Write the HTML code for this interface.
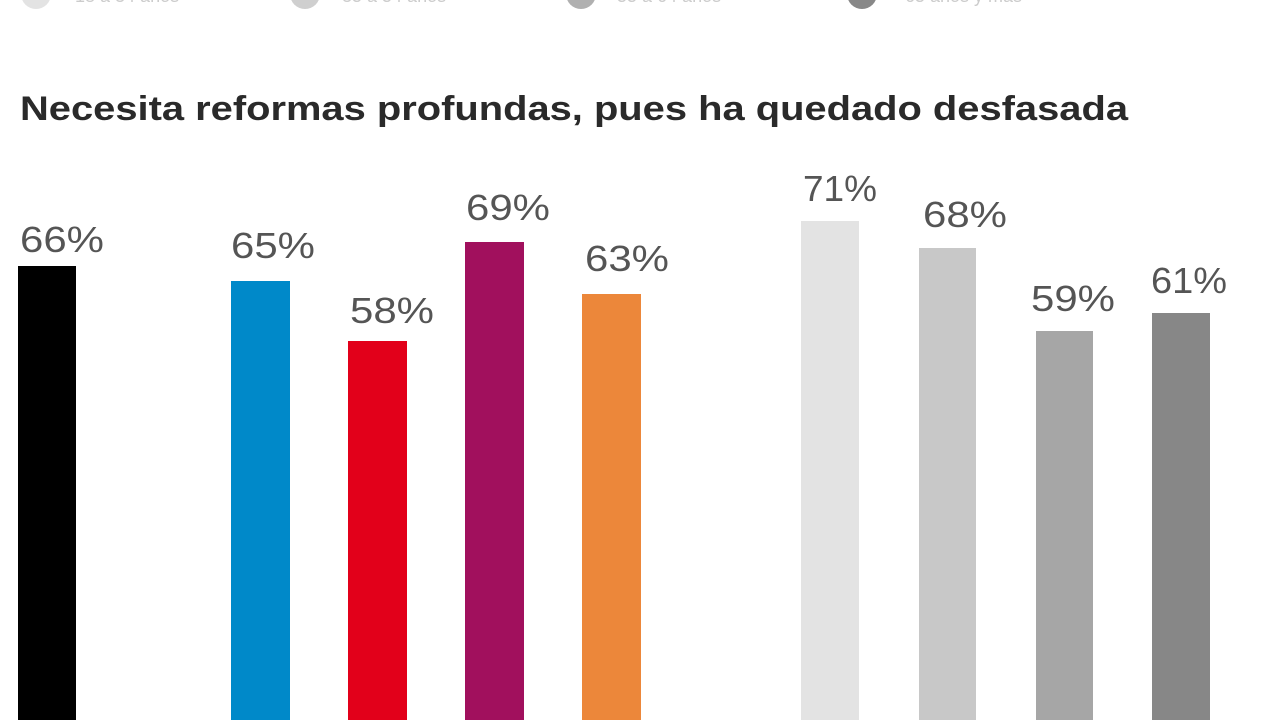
<!DOCTYPE html>
<html><head><meta charset="utf-8"><style>
html,body{margin:0;padding:0;background:#fff;width:1280px;height:720px;overflow:hidden}
</style></head><body>
<svg width="1280" height="720" xmlns="http://www.w3.org/2000/svg" font-family="Liberation Sans, sans-serif">
<circle cx="36" cy="-6" r="15" fill="#e3e3e3"/>
<text x="75" y="2" font-size="18" fill="#ccc">18 a 34 años</text>
<circle cx="305" cy="-6" r="15" fill="#cfcfcf"/>
<text x="342" y="2" font-size="18" fill="#ccc">35 a 54 años</text>
<circle cx="581" cy="-6" r="15" fill="#b0b0b0"/>
<text x="617" y="2" font-size="18" fill="#ccc">55 a 64 años</text>
<circle cx="862" cy="-6" r="15" fill="#888"/>
<text x="905" y="2" font-size="18" fill="#ccc">65 años y más</text>
<text x="20" y="120" font-size="34" font-weight="bold" fill="#2a2a2a" textLength="1108" lengthAdjust="spacingAndGlyphs">Necesita reformas profundas, pues ha quedado desfasada</text>
<g fill="#555" font-size="36" text-anchor="middle">
<rect x="18" y="266" width="58" height="460" fill="#000"/><text x="62" y="252" textLength="84" lengthAdjust="spacingAndGlyphs">66%</text>
<rect x="231" y="281" width="59" height="450" fill="#0089c9"/><text x="273" y="258" textLength="84" lengthAdjust="spacingAndGlyphs">65%</text>
<rect x="348" y="341" width="59" height="390" fill="#e2001a"/><text x="392" y="323" textLength="84" lengthAdjust="spacingAndGlyphs">58%</text>
<rect x="465" y="242" width="59" height="490" fill="#a1105d"/><text x="508" y="220" textLength="84" lengthAdjust="spacingAndGlyphs">69%</text>
<rect x="582" y="294" width="59" height="430" fill="#ec873a"/><text x="627" y="271" textLength="84" lengthAdjust="spacingAndGlyphs">63%</text>
<rect x="801" y="221" width="58" height="500" fill="#e3e3e3"/><text x="840" y="201" textLength="74" lengthAdjust="spacingAndGlyphs">71%</text>
<rect x="919" y="248" width="57" height="480" fill="#c8c8c8"/><text x="965" y="227" textLength="84" lengthAdjust="spacingAndGlyphs">68%</text>
<rect x="1036" y="331" width="57" height="400" fill="#a6a6a6"/><text x="1073" y="311" textLength="84" lengthAdjust="spacingAndGlyphs">59%</text>
<rect x="1152" y="313" width="58" height="410" fill="#878787"/><text x="1189" y="293" textLength="76" lengthAdjust="spacingAndGlyphs">61%</text>
</g>
</svg>
</body></html>
